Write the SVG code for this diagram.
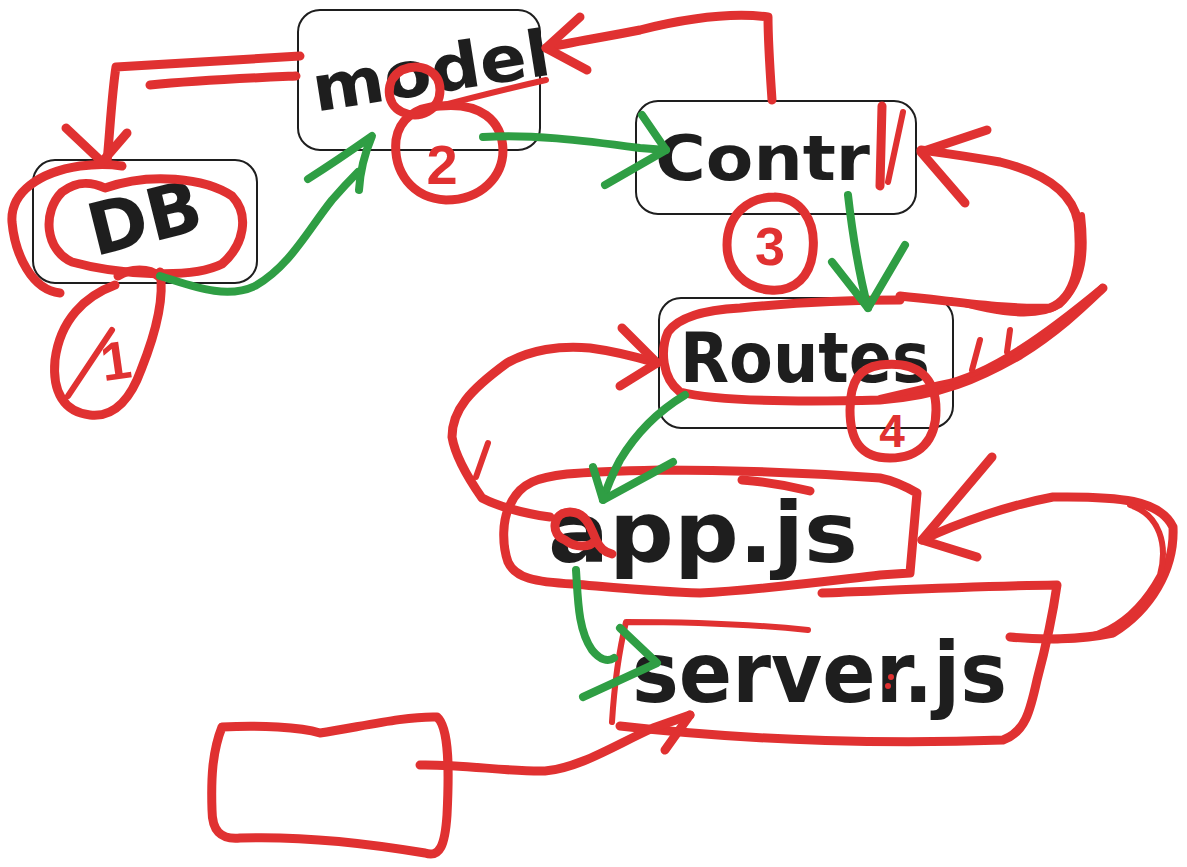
<svg xmlns="http://www.w3.org/2000/svg" width="1187" height="867" viewBox="0 0 1187 867">
  <style>
    .box { fill: none; stroke: #1e1e1e; stroke-width: 2; }
    .red { fill: none; stroke: #e03131; stroke-width: 9; stroke-linecap: round; stroke-linejoin: round; }
    .redthin { fill: none; stroke: #e03131; stroke-width: 6; stroke-linecap: round; stroke-linejoin: round; }
    .green { fill: none; stroke: #2f9e44; stroke-width: 8; stroke-linecap: round; stroke-linejoin: round; }
    .label { font-family: "DejaVu Sans", "Liberation Sans", sans-serif; font-weight: 700; fill: #1e1e1e; }
    .num { font-family: "Liberation Sans", "DejaVu Sans", sans-serif; font-weight: 700; fill: #e03131; }
  </style>
  <rect width="1187" height="867" fill="#ffffff"/>

  <!-- DB -->
  <g id="db">
    <rect class="box" x="33" y="160" width="224" height="123" rx="22"/>
    <text class="label" x="145" y="243" font-size="72" text-anchor="middle" transform="rotate(-14 145 220)">DB</text>
    <path class="red" d="M105,188 C150,172 205,178 232,196 C250,215 244,245 222,264 C190,280 115,274 72,262 C45,250 42,212 62,192 C78,180 92,182 105,188"/>
    <path class="red" d="M60,293 C32,290 15,255 12,222 C10,192 40,172 80,166 C95,164 110,164 122,166"/>
    <path class="red" d="M115,285 C85,296 60,320 55,360 C52,392 64,412 90,415 C116,418 132,395 141,370 C155,335 165,300 160,272"/>
    <path class="red" d="M118,276 C130,268 150,268 158,276"/>
    <path class="redthin" d="M68,396 L112,330"/>
    <text class="num" x="100" y="380" font-size="54" transform="rotate(-8 110 355)">1</text>
  </g>

  <!-- model -->
  <g id="model">
    <rect class="box" x="298" y="10" width="242" height="140" rx="22"/>
    <text class="label" x="314" y="112" font-size="64" textLength="240" lengthAdjust="spacingAndGlyphs" transform="rotate(-9 314 100)">model</text>
    <path class="red" d="M402,70 C422,62 440,72 440,90 C440,110 420,120 402,112 C386,105 384,80 402,70"/>
    <path class="redthin" d="M425,110 C470,98 510,88 546,80"/>
    <path class="red" d="M440,106 C480,102 502,120 503,150 C503,176 482,200 446,200 C412,198 393,172 396,140 C399,119 416,107 440,106"/>
    <text class="num" x="442" y="184" font-size="56" text-anchor="middle">2</text>
  </g>

  <!-- Contrl -->
  <g id="contrl">
    <rect class="box" x="636" y="101" width="280" height="113" rx="22"/>
    <text class="label" x="655" y="180" font-size="62" textLength="215" lengthAdjust="spacingAndGlyphs">Contr</text>
    <path class="red" d="M882,106 L880,186"/>
    <path class="redthin" d="M903,112 L888,182"/>
    <path class="red" d="M775,197 C800,198 816,220 813,250 C811,276 795,292 770,290 C745,288 727,270 727,245 C727,215 748,197 775,197"/>
    <text class="num" x="770" y="265" font-size="54" text-anchor="middle">3</text>
  </g>

  <!-- Routes -->
  <g id="routes">
    <rect class="box" x="659" y="298" width="294" height="130" rx="22"/>
    <text class="label" x="680" y="382" font-size="70" textLength="250" lengthAdjust="spacingAndGlyphs">Routes</text>
    <path class="red" d="M900,300 C850,300 790,303 740,308 C700,310 678,318 668,332 C660,350 662,378 680,392 C720,402 800,402 880,400 C940,396 980,378 1020,355 C1060,330 1085,305 1103,288"/>
    <path class="red" d="M880,365 C920,360 936,380 936,410 C936,440 920,458 890,458 C860,458 850,440 850,410 C850,380 860,368 880,365"/>
    <text class="num" x="892" y="447" font-size="46" text-anchor="middle">4</text>
  </g>

  <!-- app.js -->
  <g id="app">
    <path class="red" d="M880,478 C800,472 720,470 660,470 C620,471 590,472 567,474 C540,477 520,482 510,505 C502,520 502,545 508,562 C515,578 535,582 573,584 C620,588 660,592 700,593 C760,590 820,582 880,575 L910,573 L917,493 C905,486 895,481 880,478"/>
    <path class="red" d="M742,480 C770,482 790,486 810,491"/>
    <text class="label" x="548" y="562" font-size="84" textLength="310" lengthAdjust="spacingAndGlyphs">app.js</text>
    <path class="red" d="M565,540 C550,535 552,512 570,512 C585,512 590,525 596,540 C600,548 604,552 612,554 M596,540 C590,548 575,548 565,540"/>
  </g>

  <!-- server.js -->
  <g id="server">
    <path class="red" d="M822,593 C900,590 980,586 1057,585 C1052,620 1045,650 1037,680 C1030,712 1025,732 1003,740 C900,744 760,742 620,726"/>
    <path class="redthin" d="M612,722 C614,690 618,655 626,622 C690,622 750,624 808,630"/>
    <text class="label" x="632" y="702" font-size="84" textLength="375" lengthAdjust="spacingAndGlyphs">server.js</text>
    <circle cx="891" cy="677" r="3" fill="#e03131"/>
    <circle cx="888" cy="686" r="3" fill="#e03131"/>
  </g>

  <!-- empty box -->
  <g id="blank">
    <path class="red" d="M222,727 C260,725 300,727 320,733 C360,727 405,716 437,717 C450,728 449,775 447,815 C445,845 440,858 425,853 C360,842 300,836 240,838 C220,840 212,830 212,810 C211,780 212,752 222,727 Z"/>
  </g>

  <!-- connectors -->
  <g id="connectors">
    <!-- red: model to DB -->
    <path class="red" d="M300,56 C240,60 160,64 116,67 C112,92 110,130 107,162"/>
    <path class="red" d="M150,85 C200,80 250,78 296,76"/>
    <path class="red" d="M66,128 L102,162 L127,133"/>
    <!-- red: Contrl to model -->
    <path class="red" d="M772,100 C770,70 768,42 768,17 C730,12 680,20 640,30 C600,38 570,42 546,48"/>
    <path class="red" d="M580,17 L546,48 L587,70"/>
    <!-- red: Routes loop to Contrl -->
    <path class="red" d="M900,296 C960,302 1010,310 1050,308 C1076,298 1082,262 1078,222 C1072,190 1040,172 1000,162 C960,155 935,152 921,150"/>
    <path class="redthin" d="M950,300 C1000,315 1040,318 1060,305 C1085,282 1086,250 1082,215"/>
    <path class="red" d="M987,130 L921,152 L965,203"/>
    <path class="redthin" d="M1102,287 C1050,330 990,375 940,384 L880,398"/>
    <path class="redthin" d="M980,340 L972,370"/>
    <path class="redthin" d="M1010,330 L1007,352"/>
    <!-- red: loop into Routes -->
    <path class="red" d="M550,517 C520,513 495,505 482,498 C468,478 455,455 452,437 C452,410 470,390 507,363 C530,350 560,345 590,348 C620,352 640,358 657,363"/>
    <path class="red" d="M622,328 L657,363 L620,386"/>
    <path class="redthin" d="M488,443 L476,477"/>
    <!-- red: server.js loop into app.js -->
    <path class="red" d="M1010,637 C1040,640 1080,640 1113,633 C1150,610 1175,570 1173,527 C1160,500 1120,496 1053,497 C1010,505 960,522 922,540"/>
    <path class="redthin" d="M1050,640 C1090,642 1130,630 1160,575 C1168,545 1160,515 1130,505"/>
    <path class="red" d="M992,457 L922,540 L977,557"/>
    <!-- red: blank box to server.js -->
    <path class="red" d="M420,765 C460,764 510,772 545,771 C580,768 615,745 653,728 L690,715"/>
    <path class="red" d="M690,715 L665,750"/>
    <!-- green: DB to model -->
    <path class="green" d="M160,276 C190,285 225,300 255,286 C290,266 308,230 332,200 C345,185 352,178 358,172"/>
    <path class="green" d="M308,179 C330,165 352,150 372,136 C364,155 360,172 359,190"/>
    <!-- green: model to Contrl -->
    <path class="green" d="M483,137 C530,134 580,140 640,148 L666,150"/>
    <path class="green" d="M642,115 L666,150 L605,185"/>
    <!-- green: Contrl to Routes -->
    <path class="green" d="M848,195 C852,230 858,270 868,308"/>
    <path class="green" d="M832,262 L868,308 L905,245"/>
    <!-- green: Routes to app.js -->
    <path class="green" d="M685,395 C660,410 638,430 620,460 C612,475 606,490 603,500"/>
    <path class="green" d="M593,467 L603,500 L673,462"/>
    <!-- green: app.js to server.js -->
    <path class="green" d="M576,570 C578,600 578,630 592,650 C600,660 608,662 614,658"/>
    <path class="green" d="M620,628 L657,663 L583,697"/>
  </g>
</svg>
